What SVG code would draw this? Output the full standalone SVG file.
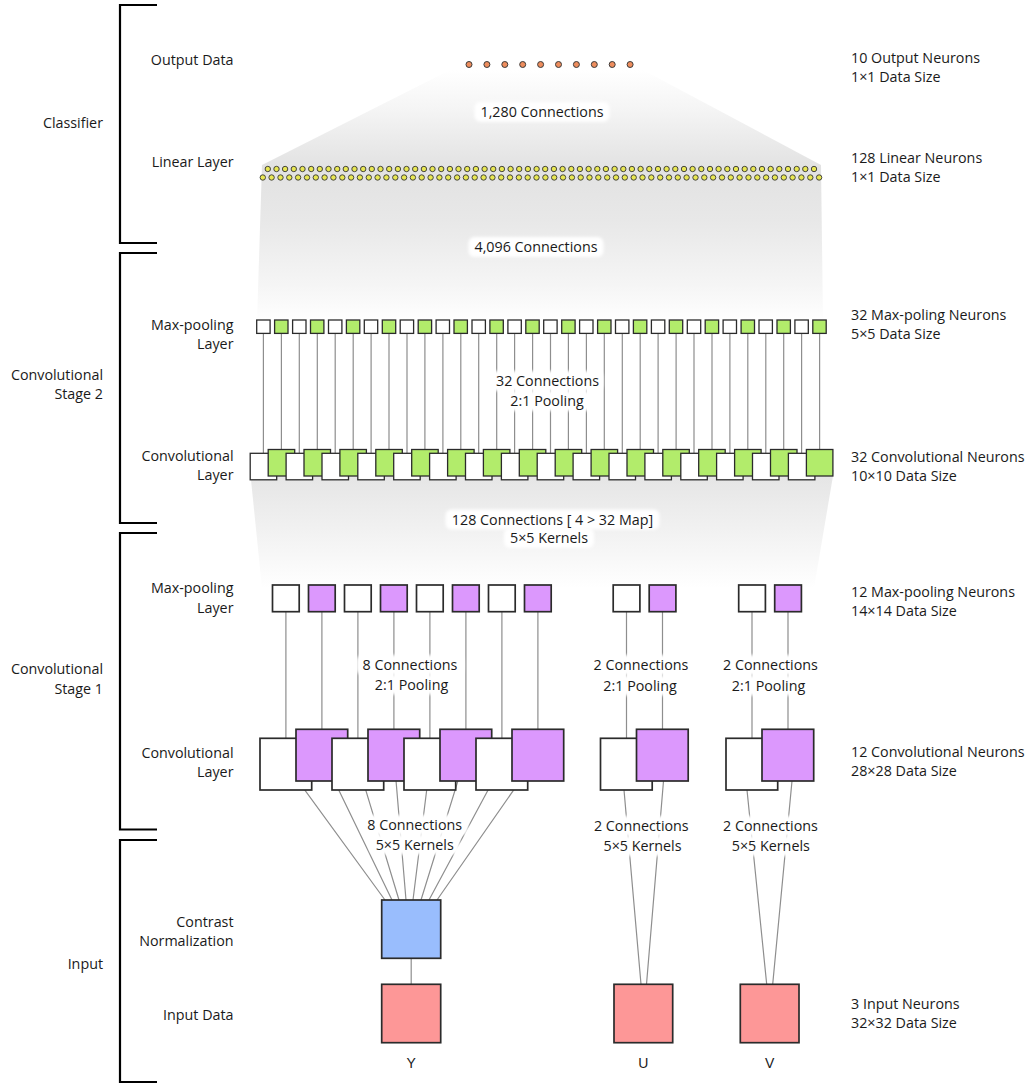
<svg xmlns="http://www.w3.org/2000/svg" width="1030" height="1085" viewBox="0 0 1030 1085">
  <defs>
    <style>
      .t { font-family: "Open Sans", "Noto Sans", sans-serif; font-size: 14.3px; fill: #1a1a1a; }
      .end { text-anchor: end; }
      .mid { text-anchor: middle; }
      .ch { font-family: "Liberation Sans", Arial, sans-serif; font-size: 14px; fill: #1a1a1a; text-anchor: middle; stroke: none; }
      .bracket { fill: none; stroke: #000; stroke-width: 2.2; }
      .link { fill: none; stroke: #8e8e8e; stroke-width: 1.2; }
      .halo { fill: #fff; filter: url(#soft); }
      .out { fill: #ee8d5d; stroke: #3a3a3a; stroke-width: 1; }
      .lin { fill: #e8e752; stroke: #333; stroke-width: 0.9; }
      .s2 { stroke: #2b2b2b; stroke-width: 1.3; }
      .s1 { stroke: #2b2b2b; stroke-width: 1.7; }
      .w { fill: #ffffff; }
      .g { fill: #b2ec6b; }
      .p { fill: #dc98fd; }
      .b { fill: #99bdfd; }
      .r { fill: #fd9797; }
    </style>
    <filter id="soft" x="-10%" y="-30%" width="120%" height="160%">
      <feGaussianBlur stdDeviation="1.4"/>
    </filter>
    <linearGradient id="fadeTop" gradientUnits="userSpaceOnUse" x1="0" y1="70" x2="0" y2="322">
      <stop offset="0" stop-color="#ffffff"/>
      <stop offset="0.15" stop-color="#f5f5f5"/>
      <stop offset="0.39" stop-color="#e2e2e2"/>
      <stop offset="0.6" stop-color="#e8e8e8"/>
      <stop offset="0.85" stop-color="#f5f5f5"/>
      <stop offset="1" stop-color="#ffffff"/>
    </linearGradient>
    <linearGradient id="fadeMid" gradientUnits="userSpaceOnUse" x1="0" y1="470" x2="0" y2="588">
      <stop offset="0" stop-color="#e4e4e4"/>
      <stop offset="0.5" stop-color="#f1f1f1"/>
      <stop offset="1" stop-color="#ffffff"/>
    </linearGradient>
  </defs>

  <!-- background -->
  <rect width="1030" height="1085" fill="#fff"/>

  <!-- shaded fans behind the fully connected parts -->
  <g id="shading">
    <polygon points="450,70 643,70 821,165 823,322 257,322 262,165" fill="url(#fadeTop)"/>
    <polygon points="250,470 834,470 814,588 262,588" fill="url(#fadeMid)"/>
  </g>

  <!-- stage brackets -->
  <g id="brackets">
    <path class="bracket" d="M157,5 H120 V243 H157"/>
    <path class="bracket" d="M157,253 H120 V523 H157"/>
    <path class="bracket" d="M157,533 H120 V829.5 H157"/>
    <path class="bracket" d="M157,840 H120 V1082 H157"/>
  </g>

  <!-- stage names -->
  <g id="stage-labels" class="t end">
    <text x="103" y="128.3">Classifier</text>
    <text x="103" y="379.5">Convolutional</text>
    <text x="103" y="399">Stage 2</text>
    <text x="103" y="674">Convolutional</text>
    <text x="103" y="693.5">Stage 1</text>
    <text x="103" y="968.5">Input</text>
  </g>

  <!-- layer names -->
  <g id="layer-labels" class="t end">
    <text x="233.5" y="65">Output Data</text>
    <text x="233.5" y="167.3">Linear Layer</text>
    <text x="233.5" y="329.5">Max-pooling</text>
    <text x="233.5" y="349">Layer</text>
    <text x="233.5" y="460.5">Convolutional</text>
    <text x="233.5" y="480">Layer</text>
    <text x="233.5" y="593.3">Max-pooling</text>
    <text x="233.5" y="612.9">Layer</text>
    <text x="233.5" y="757.5">Convolutional</text>
    <text x="233.5" y="776.5">Layer</text>
    <text x="233.5" y="926.5">Contrast</text>
    <text x="233.5" y="945.5">Normalization</text>
    <text x="233.5" y="1019.5">Input Data</text>
  </g>

  <!-- neuron counts and data sizes -->
  <g id="size-labels" class="t">
    <text x="851" y="62.7">10 Output Neurons</text>
    <text x="851" y="81.7">1×1 Data Size</text>
    <text x="851" y="162.7">128 Linear Neurons</text>
    <text x="851" y="181.7">1×1 Data Size</text>
    <text x="851" y="320">32 Max-poling Neurons</text>
    <text x="851" y="339">5×5 Data Size</text>
    <text x="851" y="461.5">32 Convolutional Neurons</text>
    <text x="851" y="480.5">10×10 Data Size</text>
    <text x="851" y="596.5">12 Max-pooling Neurons</text>
    <text x="851" y="615.5">14×14 Data Size</text>
    <text x="851" y="756.5">12 Convolutional Neurons</text>
    <text x="851" y="775.5">28×28 Data Size</text>
    <text x="851" y="1008.5">3 Input Neurons</text>
    <text x="851" y="1027.5">32×32 Data Size</text>
  </g>

  <!-- connectors -->
  <g id="connectors" class="link">
    <!-- stage 2: 2:1 pooling, one line per map -->
    <path d="M263.4,333.4V453.3 M281.4,333.4V449.5 M299.3,333.4V453.3 M317.3,333.4V449.5
             M335.2,333.4V453.3 M353.2,333.4V449.5 M371.1,333.4V453.3 M389.0,333.4V449.5
             M407.0,333.4V453.3 M424.9,333.4V449.5 M442.9,333.4V453.3 M460.8,333.4V449.5
             M478.7,333.4V453.3 M496.7,333.4V449.5 M514.6,333.4V453.3 M532.6,333.4V449.5
             M550.5,333.4V453.3 M568.4,333.4V449.5 M586.4,333.4V453.3 M604.3,333.4V449.5
             M622.3,333.4V453.3 M640.2,333.4V449.5 M658.1,333.4V453.3 M676.1,333.4V449.5
             M694.0,333.4V453.3 M712.0,333.4V449.5 M729.9,333.4V453.3 M747.8,333.4V449.5
             M765.8,333.4V453.3 M783.7,333.4V449.5 M801.6,333.4V453.3 M819.6,333.4V449.5"/>
    <!-- stage 1: 2:1 pooling -->
    <path d="M285.9,611.7V738.3 M321.9,611.7V729.3 M357.9,611.7V738.3 M393.9,611.7V729.3
             M429.9,611.7V738.3 M465.9,611.7V729.3 M501.9,611.7V738.3 M537.9,611.7V729.3
             M626.5,611.7V738.3 M662.5,611.7V729.3
             M752,611.7V738.3 M788,611.7V729.3"/>
    <!-- stage 1: 5x5 kernels from the input planes -->
    <path d="M285.9,764.2L385,900 M321.9,755.2L392,900 M357.9,764.2L399,900 M393.9,755.2L406,900
             M429.9,764.2L413,900 M465.9,755.2L421,900 M501.9,764.2L429,900 M537.9,755.2L437,900"/>
    <path d="M624,790L641,984.3 M663.5,781L646.5,984.3"/>
    <path d="M747,790L766.7,984.3 M792,781L772.7,984.3"/>
    <!-- Y plane through contrast normalization -->
    <path d="M411.2,958.3V984.3"/>
  </g>

  <!-- connection counts -->
  <g id="connection-labels">
    <rect class="halo" x="474.5" y="101.7" width="135" height="20" rx="6"/>
    <rect class="halo" x="468.5" y="237" width="135" height="20" rx="6"/>
    <rect class="halo" x="490" y="371" width="113" height="20" rx="6"/>
    <rect class="halo" x="502" y="391" width="90" height="20" rx="6"/>
    <rect class="halo" x="445.5" y="509.5" width="214" height="20" rx="6"/>
    <rect class="halo" x="504" y="528" width="90" height="20" rx="6"/>
    <rect class="halo" x="356.5" y="655" width="107" height="20" rx="6"/>
    <rect class="halo" x="367.5" y="674.5" width="88" height="20" rx="6"/>
    <rect class="halo" x="587.5" y="655" width="107" height="20" rx="6"/>
    <rect class="halo" x="596" y="675.5" width="88" height="20" rx="6"/>
    <rect class="halo" x="717" y="655" width="107" height="20" rx="6"/>
    <rect class="halo" x="724.5" y="675.5" width="88" height="20" rx="6"/>
    <rect class="halo" x="361" y="815" width="107" height="20" rx="6"/>
    <rect class="halo" x="369.7" y="834.5" width="90" height="20" rx="6"/>
    <rect class="halo" x="588" y="816" width="107" height="20" rx="6"/>
    <rect class="halo" x="597.5" y="836" width="90" height="20" rx="6"/>
    <rect class="halo" x="717" y="816" width="107" height="20" rx="6"/>
    <rect class="halo" x="725.8" y="836" width="90" height="20" rx="6"/>
    <g class="t mid">
      <text x="542" y="116.7">1,280 Connections</text>
      <text x="536" y="252">4,096 Connections</text>
      <text x="547.5" y="386">32 Connections</text>
      <text x="547" y="406">2:1 Pooling</text>
      <text x="552.5" y="524.5">128 Connections [ 4 &gt; 32 Map]</text>
      <text x="549" y="543">5×5 Kernels</text>
      <text x="410" y="670">8 Connections</text>
      <text x="411.5" y="689.5">2:1 Pooling</text>
      <text x="641" y="670">2 Connections</text>
      <text x="640" y="690.5">2:1 Pooling</text>
      <text x="770.5" y="670">2 Connections</text>
      <text x="768.5" y="690.5">2:1 Pooling</text>
      <text x="414.7" y="830">8 Connections</text>
      <text x="414.7" y="849.5">5×5 Kernels</text>
      <text x="641.3" y="831">2 Connections</text>
      <text x="642.5" y="851">5×5 Kernels</text>
      <text x="770.5" y="831">2 Connections</text>
      <text x="770.8" y="851">5×5 Kernels</text>
    </g>
  </g>

  <!-- 10 output neurons -->
  <g id="output-layer">
    <circle class="out" cx="469" cy="64.5" r="3"/>
    <circle class="out" cx="486.9" cy="64.5" r="3"/>
    <circle class="out" cx="504.8" cy="64.5" r="3"/>
    <circle class="out" cx="522.7" cy="64.5" r="3"/>
    <circle class="out" cx="540.6" cy="64.5" r="3"/>
    <circle class="out" cx="558.5" cy="64.5" r="3"/>
    <circle class="out" cx="576.4" cy="64.5" r="3"/>
    <circle class="out" cx="594.3" cy="64.5" r="3"/>
    <circle class="out" cx="612.2" cy="64.5" r="3"/>
    <circle class="out" cx="630.1" cy="64.5" r="3"/>
  </g>

  <!-- 128 linear neurons in two staggered rows -->
  <g id="linear-layer">
    <g id="linear-row-a">
      <circle class="lin" cx="267.8" cy="169" r="2.7"/><circle class="lin" cx="276.5" cy="169" r="2.7"/>
      <circle class="lin" cx="285.1" cy="169" r="2.7"/><circle class="lin" cx="293.8" cy="169" r="2.7"/>
      <circle class="lin" cx="302.5" cy="169" r="2.7"/><circle class="lin" cx="311.2" cy="169" r="2.7"/>
      <circle class="lin" cx="319.8" cy="169" r="2.7"/><circle class="lin" cx="328.5" cy="169" r="2.7"/>
      <circle class="lin" cx="337.2" cy="169" r="2.7"/><circle class="lin" cx="345.8" cy="169" r="2.7"/>
      <circle class="lin" cx="354.5" cy="169" r="2.7"/><circle class="lin" cx="363.2" cy="169" r="2.7"/>
      <circle class="lin" cx="371.8" cy="169" r="2.7"/><circle class="lin" cx="380.5" cy="169" r="2.7"/>
      <circle class="lin" cx="389.2" cy="169" r="2.7"/><circle class="lin" cx="397.9" cy="169" r="2.7"/>
      <circle class="lin" cx="406.5" cy="169" r="2.7"/><circle class="lin" cx="415.2" cy="169" r="2.7"/>
      <circle class="lin" cx="423.9" cy="169" r="2.7"/><circle class="lin" cx="432.5" cy="169" r="2.7"/>
      <circle class="lin" cx="441.2" cy="169" r="2.7"/><circle class="lin" cx="449.9" cy="169" r="2.7"/>
      <circle class="lin" cx="458.5" cy="169" r="2.7"/><circle class="lin" cx="467.2" cy="169" r="2.7"/>
      <circle class="lin" cx="475.9" cy="169" r="2.7"/><circle class="lin" cx="484.6" cy="169" r="2.7"/>
      <circle class="lin" cx="493.2" cy="169" r="2.7"/><circle class="lin" cx="501.9" cy="169" r="2.7"/>
      <circle class="lin" cx="510.6" cy="169" r="2.7"/><circle class="lin" cx="519.2" cy="169" r="2.7"/>
      <circle class="lin" cx="527.9" cy="169" r="2.7"/><circle class="lin" cx="536.6" cy="169" r="2.7"/>
      <circle class="lin" cx="545.2" cy="169" r="2.7"/><circle class="lin" cx="553.9" cy="169" r="2.7"/>
      <circle class="lin" cx="562.6" cy="169" r="2.7"/><circle class="lin" cx="571.3" cy="169" r="2.7"/>
      <circle class="lin" cx="579.9" cy="169" r="2.7"/><circle class="lin" cx="588.6" cy="169" r="2.7"/>
      <circle class="lin" cx="597.3" cy="169" r="2.7"/><circle class="lin" cx="605.9" cy="169" r="2.7"/>
      <circle class="lin" cx="614.6" cy="169" r="2.7"/><circle class="lin" cx="623.3" cy="169" r="2.7"/>
      <circle class="lin" cx="631.9" cy="169" r="2.7"/><circle class="lin" cx="640.6" cy="169" r="2.7"/>
      <circle class="lin" cx="649.3" cy="169" r="2.7"/><circle class="lin" cx="658.0" cy="169" r="2.7"/>
      <circle class="lin" cx="666.6" cy="169" r="2.7"/><circle class="lin" cx="675.3" cy="169" r="2.7"/>
      <circle class="lin" cx="684.0" cy="169" r="2.7"/><circle class="lin" cx="692.6" cy="169" r="2.7"/>
      <circle class="lin" cx="701.3" cy="169" r="2.7"/><circle class="lin" cx="710.0" cy="169" r="2.7"/>
      <circle class="lin" cx="718.6" cy="169" r="2.7"/><circle class="lin" cx="727.3" cy="169" r="2.7"/>
      <circle class="lin" cx="736.0" cy="169" r="2.7"/><circle class="lin" cx="744.7" cy="169" r="2.7"/>
      <circle class="lin" cx="753.3" cy="169" r="2.7"/><circle class="lin" cx="762.0" cy="169" r="2.7"/>
      <circle class="lin" cx="770.7" cy="169" r="2.7"/><circle class="lin" cx="779.3" cy="169" r="2.7"/>
      <circle class="lin" cx="788.0" cy="169" r="2.7"/><circle class="lin" cx="796.7" cy="169" r="2.7"/>
      <circle class="lin" cx="805.3" cy="169" r="2.7"/><circle class="lin" cx="814.0" cy="169" r="2.7"/>
    </g>
    <g id="linear-row-b">
      <circle class="lin" cx="262.8" cy="177.5" r="2.7"/><circle class="lin" cx="271.6" cy="177.5" r="2.7"/>
      <circle class="lin" cx="280.5" cy="177.5" r="2.7"/><circle class="lin" cx="289.3" cy="177.5" r="2.7"/>
      <circle class="lin" cx="298.1" cy="177.5" r="2.7"/><circle class="lin" cx="307.0" cy="177.5" r="2.7"/>
      <circle class="lin" cx="315.8" cy="177.5" r="2.7"/><circle class="lin" cx="324.6" cy="177.5" r="2.7"/>
      <circle class="lin" cx="333.4" cy="177.5" r="2.7"/><circle class="lin" cx="342.3" cy="177.5" r="2.7"/>
      <circle class="lin" cx="351.1" cy="177.5" r="2.7"/><circle class="lin" cx="359.9" cy="177.5" r="2.7"/>
      <circle class="lin" cx="368.8" cy="177.5" r="2.7"/><circle class="lin" cx="377.6" cy="177.5" r="2.7"/>
      <circle class="lin" cx="386.4" cy="177.5" r="2.7"/><circle class="lin" cx="395.3" cy="177.5" r="2.7"/>
      <circle class="lin" cx="404.1" cy="177.5" r="2.7"/><circle class="lin" cx="412.9" cy="177.5" r="2.7"/>
      <circle class="lin" cx="421.7" cy="177.5" r="2.7"/><circle class="lin" cx="430.6" cy="177.5" r="2.7"/>
      <circle class="lin" cx="439.4" cy="177.5" r="2.7"/><circle class="lin" cx="448.2" cy="177.5" r="2.7"/>
      <circle class="lin" cx="457.1" cy="177.5" r="2.7"/><circle class="lin" cx="465.9" cy="177.5" r="2.7"/>
      <circle class="lin" cx="474.7" cy="177.5" r="2.7"/><circle class="lin" cx="483.6" cy="177.5" r="2.7"/>
      <circle class="lin" cx="492.4" cy="177.5" r="2.7"/><circle class="lin" cx="501.2" cy="177.5" r="2.7"/>
      <circle class="lin" cx="510.0" cy="177.5" r="2.7"/><circle class="lin" cx="518.9" cy="177.5" r="2.7"/>
      <circle class="lin" cx="527.7" cy="177.5" r="2.7"/><circle class="lin" cx="536.5" cy="177.5" r="2.7"/>
      <circle class="lin" cx="545.4" cy="177.5" r="2.7"/><circle class="lin" cx="554.2" cy="177.5" r="2.7"/>
      <circle class="lin" cx="563.0" cy="177.5" r="2.7"/><circle class="lin" cx="571.9" cy="177.5" r="2.7"/>
      <circle class="lin" cx="580.7" cy="177.5" r="2.7"/><circle class="lin" cx="589.5" cy="177.5" r="2.7"/>
      <circle class="lin" cx="598.3" cy="177.5" r="2.7"/><circle class="lin" cx="607.2" cy="177.5" r="2.7"/>
      <circle class="lin" cx="616.0" cy="177.5" r="2.7"/><circle class="lin" cx="624.8" cy="177.5" r="2.7"/>
      <circle class="lin" cx="633.7" cy="177.5" r="2.7"/><circle class="lin" cx="642.5" cy="177.5" r="2.7"/>
      <circle class="lin" cx="651.3" cy="177.5" r="2.7"/><circle class="lin" cx="660.2" cy="177.5" r="2.7"/>
      <circle class="lin" cx="669.0" cy="177.5" r="2.7"/><circle class="lin" cx="677.8" cy="177.5" r="2.7"/>
      <circle class="lin" cx="686.6" cy="177.5" r="2.7"/><circle class="lin" cx="695.5" cy="177.5" r="2.7"/>
      <circle class="lin" cx="704.3" cy="177.5" r="2.7"/><circle class="lin" cx="713.1" cy="177.5" r="2.7"/>
      <circle class="lin" cx="722.0" cy="177.5" r="2.7"/><circle class="lin" cx="730.8" cy="177.5" r="2.7"/>
      <circle class="lin" cx="739.6" cy="177.5" r="2.7"/><circle class="lin" cx="748.5" cy="177.5" r="2.7"/>
      <circle class="lin" cx="757.3" cy="177.5" r="2.7"/><circle class="lin" cx="766.1" cy="177.5" r="2.7"/>
      <circle class="lin" cx="774.9" cy="177.5" r="2.7"/><circle class="lin" cx="783.8" cy="177.5" r="2.7"/>
      <circle class="lin" cx="792.6" cy="177.5" r="2.7"/><circle class="lin" cx="801.4" cy="177.5" r="2.7"/>
      <circle class="lin" cx="810.3" cy="177.5" r="2.7"/><circle class="lin" cx="819.1" cy="177.5" r="2.7"/>
    </g>
  </g>

  <!-- stage 2 max-pooling: 32 maps of 5x5 -->
  <g id="pool2-layer" class="s2">
    <rect class="w" x="256.7" y="320" width="13.4" height="13.4"/>
    <rect class="g" x="274.6" y="320" width="13.4" height="13.4"/>
    <rect class="w" x="292.6" y="320" width="13.4" height="13.4"/>
    <rect class="g" x="310.5" y="320" width="13.4" height="13.4"/>
    <rect class="w" x="328.5" y="320" width="13.4" height="13.4"/>
    <rect class="g" x="346.4" y="320" width="13.4" height="13.4"/>
    <rect class="w" x="364.3" y="320" width="13.4" height="13.4"/>
    <rect class="g" x="382.3" y="320" width="13.4" height="13.4"/>
    <rect class="w" x="400.2" y="320" width="13.4" height="13.4"/>
    <rect class="g" x="418.2" y="320" width="13.4" height="13.4"/>
    <rect class="w" x="436.1" y="320" width="13.4" height="13.4"/>
    <rect class="g" x="454.0" y="320" width="13.4" height="13.4"/>
    <rect class="w" x="472.0" y="320" width="13.4" height="13.4"/>
    <rect class="g" x="489.9" y="320" width="13.4" height="13.4"/>
    <rect class="w" x="507.9" y="320" width="13.4" height="13.4"/>
    <rect class="g" x="525.8" y="320" width="13.4" height="13.4"/>
    <rect class="w" x="543.7" y="320" width="13.4" height="13.4"/>
    <rect class="g" x="561.7" y="320" width="13.4" height="13.4"/>
    <rect class="w" x="579.6" y="320" width="13.4" height="13.4"/>
    <rect class="g" x="597.6" y="320" width="13.4" height="13.4"/>
    <rect class="w" x="615.5" y="320" width="13.4" height="13.4"/>
    <rect class="g" x="633.4" y="320" width="13.4" height="13.4"/>
    <rect class="w" x="651.4" y="320" width="13.4" height="13.4"/>
    <rect class="g" x="669.3" y="320" width="13.4" height="13.4"/>
    <rect class="w" x="687.3" y="320" width="13.4" height="13.4"/>
    <rect class="g" x="705.2" y="320" width="13.4" height="13.4"/>
    <rect class="w" x="723.1" y="320" width="13.4" height="13.4"/>
    <rect class="g" x="741.1" y="320" width="13.4" height="13.4"/>
    <rect class="w" x="759.0" y="320" width="13.4" height="13.4"/>
    <rect class="g" x="777.0" y="320" width="13.4" height="13.4"/>
    <rect class="w" x="794.9" y="320" width="13.4" height="13.4"/>
    <rect class="g" x="812.8" y="320" width="13.4" height="13.4"/>
  </g>

  <!-- stage 2 convolution: 32 maps of 10x10 -->
  <g id="conv2-layer" class="s2">
    <rect class="w" x="250.2" y="453.3" width="26.5" height="26.5"/>
    <rect class="g" x="268.2" y="449.5" width="26.5" height="26.5"/>
    <rect class="w" x="286.1" y="453.3" width="26.5" height="26.5"/>
    <rect class="g" x="304.0" y="449.5" width="26.5" height="26.5"/>
    <rect class="w" x="322.0" y="453.3" width="26.5" height="26.5"/>
    <rect class="g" x="339.9" y="449.5" width="26.5" height="26.5"/>
    <rect class="w" x="357.8" y="453.3" width="26.5" height="26.5"/>
    <rect class="g" x="375.8" y="449.5" width="26.5" height="26.5"/>
    <rect class="w" x="393.7" y="453.3" width="26.5" height="26.5"/>
    <rect class="g" x="411.7" y="449.5" width="26.5" height="26.5"/>
    <rect class="w" x="429.6" y="453.3" width="26.5" height="26.5"/>
    <rect class="g" x="447.6" y="449.5" width="26.5" height="26.5"/>
    <rect class="w" x="465.5" y="453.3" width="26.5" height="26.5"/>
    <rect class="g" x="483.4" y="449.5" width="26.5" height="26.5"/>
    <rect class="w" x="501.4" y="453.3" width="26.5" height="26.5"/>
    <rect class="g" x="519.3" y="449.5" width="26.5" height="26.5"/>
    <rect class="w" x="537.2" y="453.3" width="26.5" height="26.5"/>
    <rect class="g" x="555.2" y="449.5" width="26.5" height="26.5"/>
    <rect class="w" x="573.1" y="453.3" width="26.5" height="26.5"/>
    <rect class="g" x="591.1" y="449.5" width="26.5" height="26.5"/>
    <rect class="w" x="609.0" y="453.3" width="26.5" height="26.5"/>
    <rect class="g" x="627.0" y="449.5" width="26.5" height="26.5"/>
    <rect class="w" x="644.9" y="453.3" width="26.5" height="26.5"/>
    <rect class="g" x="662.8" y="449.5" width="26.5" height="26.5"/>
    <rect class="w" x="680.8" y="453.3" width="26.5" height="26.5"/>
    <rect class="g" x="698.7" y="449.5" width="26.5" height="26.5"/>
    <rect class="w" x="716.6" y="453.3" width="26.5" height="26.5"/>
    <rect class="g" x="734.6" y="449.5" width="26.5" height="26.5"/>
    <rect class="w" x="752.5" y="453.3" width="26.5" height="26.5"/>
    <rect class="g" x="770.5" y="449.5" width="26.5" height="26.5"/>
    <rect class="w" x="788.4" y="453.3" width="26.5" height="26.5"/>
    <rect class="g" x="806.4" y="449.5" width="26.5" height="26.5"/>
  </g>

  <!-- stage 1 max-pooling: 12 maps of 14x14 -->
  <g id="pool1-layer" class="s1">
    <g id="pool1-y">
      <rect class="w" x="272.5" y="585" width="26.7" height="26.7"/>
      <rect class="p" x="308.5" y="585" width="26.7" height="26.7"/>
      <rect class="w" x="344.5" y="585" width="26.7" height="26.7"/>
      <rect class="p" x="380.5" y="585" width="26.7" height="26.7"/>
      <rect class="w" x="416.5" y="585" width="26.7" height="26.7"/>
      <rect class="p" x="452.5" y="585" width="26.7" height="26.7"/>
      <rect class="w" x="488.5" y="585" width="26.7" height="26.7"/>
      <rect class="p" x="524.5" y="585" width="26.7" height="26.7"/>
    </g>
    <g id="pool1-u">
      <rect class="w" x="613.2" y="585" width="26.7" height="26.7"/>
      <rect class="p" x="649.2" y="585" width="26.7" height="26.7"/>
    </g>
    <g id="pool1-v">
      <rect class="w" x="738.7" y="585" width="26.7" height="26.7"/>
      <rect class="p" x="774.7" y="585" width="26.7" height="26.7"/>
    </g>
  </g>

  <!-- stage 1 convolution: 12 maps of 28x28 -->
  <g id="conv1-layer" class="s1">
    <g id="conv1-y">
      <rect class="w" x="260" y="738.3" width="51.7" height="51.7"/>
      <rect class="p" x="296" y="729.3" width="51.7" height="51.7"/>
      <rect class="w" x="332" y="738.3" width="51.7" height="51.7"/>
      <rect class="p" x="368" y="729.3" width="51.7" height="51.7"/>
      <rect class="w" x="404" y="738.3" width="51.7" height="51.7"/>
      <rect class="p" x="440" y="729.3" width="51.7" height="51.7"/>
      <rect class="w" x="476" y="738.3" width="51.7" height="51.7"/>
      <rect class="p" x="512" y="729.3" width="51.7" height="51.7"/>
    </g>
    <g id="conv1-u">
      <rect class="w" x="600.5" y="738.3" width="51.7" height="51.7"/>
      <rect class="p" x="636.5" y="729.3" width="51.7" height="51.7"/>
    </g>
    <g id="conv1-v">
      <rect class="w" x="726" y="738.3" width="51.7" height="51.7"/>
      <rect class="p" x="762" y="729.3" width="51.7" height="51.7"/>
    </g>
  </g>

  <!-- contrast normalization of the Y plane -->
  <g id="contrast-norm" class="s1">
    <rect class="b" x="381.7" y="900" width="59" height="58.3"/>
  </g>

  <!-- input planes -->
  <g id="input-y">
    <rect class="r s1" x="381.7" y="984.3" width="59" height="58.4"/>
    <text class="ch" x="411.2" y="1067.7">Y</text>
  </g>
  <g id="input-u">
    <rect class="r s1" x="614" y="984.3" width="58.7" height="58.4"/>
    <text class="ch" x="643.3" y="1067.7">U</text>
  </g>
  <g id="input-v">
    <rect class="r s1" x="740.3" y="984.3" width="58.7" height="58.4"/>
    <text class="ch" x="769.6" y="1067.7">V</text>
  </g>
</svg>
